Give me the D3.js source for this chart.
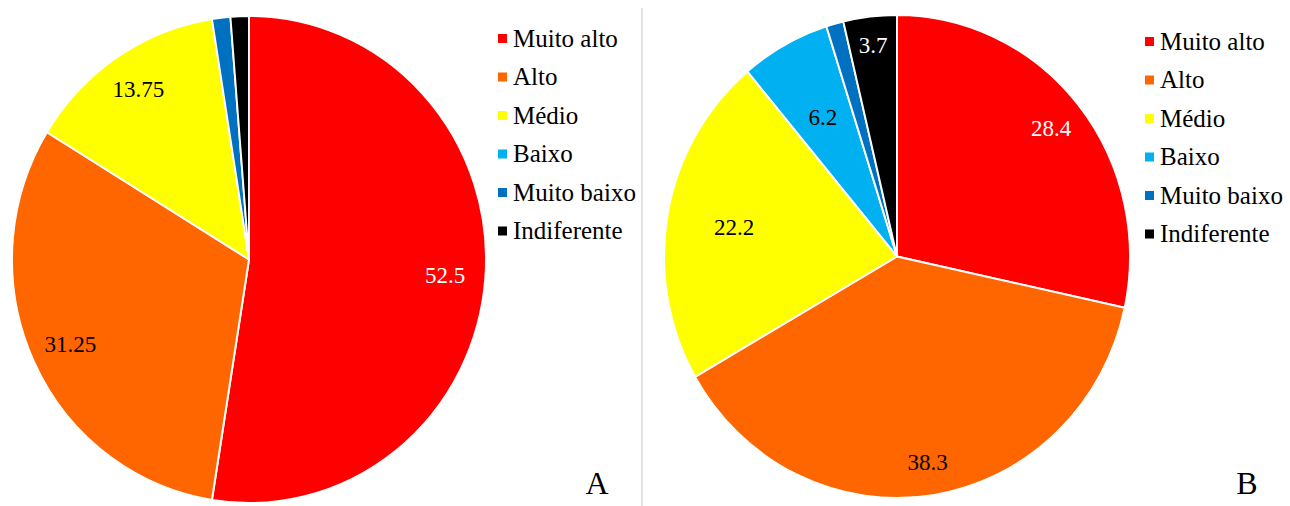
<!DOCTYPE html>
<html>
<head>
<meta charset="utf-8">
<script src="https://cdn.jsdelivr.net/npm/d3@7"></script>
<style>
  body { margin: 0; background: #fff; }
</style>
</head>
<body>
<div id="chart"></div>
<script>
// categories and values
const categories = ["Muito alto", "Alto", "Médio", "Baixo", "Muito baixo", "Indiferente"];
const colors = ["#ff0000", "#ff6600", "#ffff00", "#00b0f0", "#0070c0", "#000000"];
const valuesA = [52.5, 31.25, 13.75, 0, 1.25, 1.25];
const valuesB = [28.4, 38.3, 22.2, 6.2, 1.2, 3.7];
const labelsA = ["52.5", "31.25", "13.75", "", "", ""];
const labelsB = ["28.4", "38.3", "22.2", "6.2", "", "3.7"];
const panelNames = ["A", "B"];

const svgWidth = 1290;
const svgHeight = 506;
const serif = "Liberation Serif";

const svg = d3.select("#chart").append("svg")
    .attr("width", svgWidth)
    .attr("height", svgHeight)
    .style("display", "block");

// divider between the two panels
svg.append("line")
    .attr("x1", 642).attr("x2", 642)
    .attr("y1", 8).attr("y2", svgHeight)
    .attr("stroke", "#d9d9d9")
    .attr("stroke-width", 1.5);

// the pies are slightly squeezed horizontally in the original
// lr = how far out each value label sits (fraction of radius), excel "best fit"
const panels = [
    {values: valuesA, labels: labelsA, cx: 249, cy: 259.5, rx: 237, ry: 243.5,
     lr: [0.83, 0.83, 0.84, 0.8, 0.8, 0.8],
     legendX: 498, legendY: 38, name: panelNames[0], nameX: 597},
    {values: valuesB, labels: labelsB, cx: 897, cy: 256.5, rx: 233, ry: 241.5,
     lr: [0.85, 0.86, 0.71, 0.66, 0.8, 0.88],
     legendX: 1145, legendY: 41, name: panelNames[1], nameX: 1247}
];

const color = d3.scaleOrdinal().domain(categories).range(colors);
const pie = d3.pie().sort(null).value(d => d.value);

panels.forEach(p => {
    const data = categories.map((c, i) => ({cat: c, value: p.values[i], label: p.labels[i], lr: p.lr[i]}));
    const arcs = pie(data);
    const sx = p.rx / p.ry;
    const arc = d3.arc().innerRadius(0).outerRadius(p.ry);

    const g = svg.append("g")
        .attr("transform", `translate(${p.cx}, ${p.cy})`);

    g.append("g")
        .attr("transform", `scale(${sx}, 1)`)
        .selectAll("path")
        .data(arcs.filter(d => d.data.value > 0))
        .enter()
        .append("path")
        .attr("d", arc)
        .attr("fill", d => color(d.data.cat))
        .attr("stroke", "#ffffff")
        .attr("stroke-width", 2)
        .attr("stroke-linejoin", "round");

    // slice values
    g.selectAll("text")
        .data(arcs.filter(d => d.data.label !== ""))
        .enter()
        .append("text")
        .attr("transform", d => {
            const rr = p.ry * d.data.lr;
            const c = d3.arc().innerRadius(rr).outerRadius(rr).centroid(d);
            return `translate(${c[0] * sx}, ${c[1]})`;
        })
        .attr("text-anchor", "middle")
        .attr("dy", "0.35em")
        .style("font-family", serif)
        .attr("font-size", 23)
        .attr("fill", d => (d.data.cat === "Muito alto" || d.data.cat === "Indiferente") ? "#ffffff" : "#000000")
        .text(d => d.data.label);

    // legend
    const legend = svg.append("g")
        .attr("transform", `translate(${p.legendX}, ${p.legendY})`);

    const item = legend.selectAll("g")
        .data(categories)
        .enter()
        .append("g")
        .attr("transform", (d, i) => `translate(0, ${i * 38.5})`);

    item.append("rect")
        .attr("x", 0).attr("y", -4)
        .attr("width", 9).attr("height", 9)
        .attr("fill", d => color(d));

    item.append("text")
        .attr("x", 15)
        .attr("dy", "0.35em")
        .style("font-family", serif)
        .attr("font-size", 25)
        .attr("fill", "#000")
        .text(d => d);

    // panel letter
    svg.append("text")
        .attr("x", p.nameX)
        .attr("y", 494)
        .attr("text-anchor", "middle")
        .style("font-family", serif)
        .attr("font-size", 32)
        .attr("fill", "#000")
        .text(p.name);
});
</script>
</body>
</html>
